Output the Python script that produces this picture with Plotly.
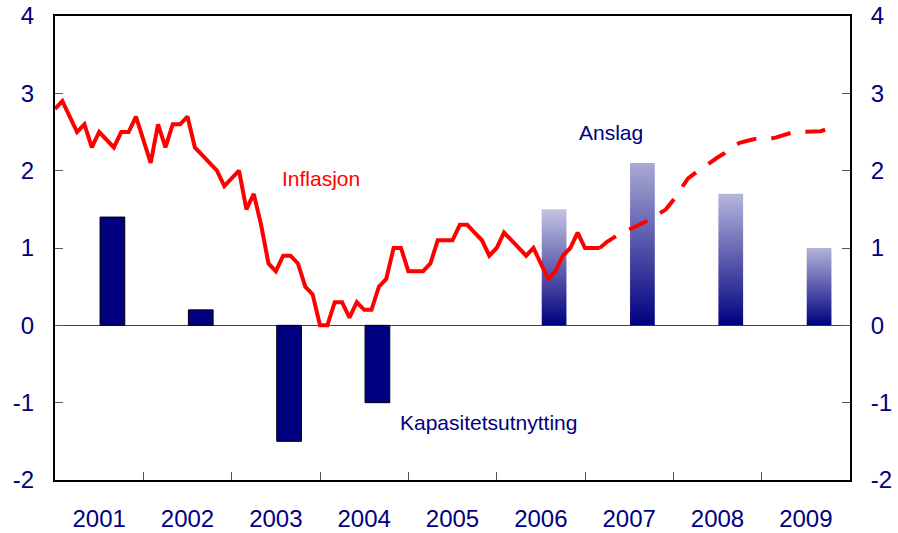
import plotly.graph_objects as go

# ---- data ----
years = [2001, 2002, 2003, 2004, 2005, 2006, 2007, 2008, 2009]
year_labels = ["2001", "2002", "2003", "2004", "2005", "2006", "2007", "2008", "2009"]
y_ticks = [-2, -1, 0, 1, 2, 3, 4]
y_tick_labels = ["-2", "-1", "0", "1", "2", "3", "4"]

# Kapasitetsutnytting (output gap), historical and forecast (Anslag)
gap_hist_years = [2001, 2002, 2003, 2004]
gap_hist_vals = [1.4, 0.2, -1.5, -1.0]
gap_fc_years = [2006, 2007, 2008, 2009]
gap_fc_vals = [1.5, 2.1, 1.7, 1.0]

# Inflasjon, monthly from Jan 2001 (solid = outcome, dashed = forecast)
infl_start = 2001.0
infl_hist = [
    2.8, 2.9, 2.7, 2.5, 2.6, 2.3, 2.5, 2.4, 2.3, 2.5, 2.5, 2.7,   # 2001
    2.4, 2.1, 2.6, 2.3, 2.6, 2.6, 2.7, 2.3, 2.2, 2.1, 2.0, 1.8,   # 2002
    1.9, 2.0, 1.5, 1.7, 1.3, 0.8, 0.7, 0.9, 0.9, 0.8, 0.5, 0.4,   # 2003
    0.0, 0.0, 0.3, 0.3, 0.1, 0.3, 0.2, 0.2, 0.5, 0.6, 1.0, 1.0,   # 2004
    0.7, 0.7, 0.7, 0.8, 1.1, 1.1, 1.1, 1.3, 1.3, 1.2, 1.1, 0.9,   # 2005
    1.0, 1.2, 1.1, 1.0, 0.9, 1.0, 0.8, 0.6, 0.7, 0.9, 1.0, 1.2,   # 2006
    1.0, 1.0, 1.0,                                                # 2007 Jan-Mar
]
infl_fc_start_index = 74  # Mar 2007
infl_fc = [
    1.0, 1.08, 1.14, 1.20, 1.24, 1.28, 1.33, 1.38, 1.44, 1.50,
    1.62, 1.77, 1.90, 1.97, 2.04, 2.11, 2.17, 2.23, 2.31, 2.36, 2.39, 2.41,
    2.41, 2.41, 2.43, 2.46, 2.49, 2.50, 2.50, 2.50, 2.51, 2.54,
]

# ---- styling ----
NAVY = "#000080"
RED = "#ff0000"
FONT = "Liberation Sans, Arial, sans-serif"
bar_offset = 0.65
bar_width = 0.28
fc_top_colors = ["#c4c4e2", "#a9a9d4", "#b6b6dc", "#b4b4da"]

fig = go.Figure()

# historical bars
fig.add_trace(go.Bar(
    x=[y + bar_offset for y in gap_hist_years], y=gap_hist_vals,
    width=bar_width, marker=dict(color=NAVY, line=dict(color="#000000", width=1)),
    showlegend=False, hoverinfo="skip",
))

# forecast bars with vertical gradient
for yr, v, top in zip(gap_fc_years, gap_fc_vals, fc_top_colors):
    c = yr + bar_offset
    x0, x1 = c - bar_width / 2, c + bar_width / 2
    fig.add_trace(go.Scatter(
        x=[x0, x1, x1, x0, x0], y=[0, 0, v, v, 0],
        mode="lines", line=dict(width=0), fill="toself",
        fillgradient=dict(type="vertical", colorscale=[[0, NAVY], [1, top]],
                          start=0, stop=v),
        showlegend=False, hoverinfo="skip",
    ))

# inflation lines
x_hist = [infl_start + i / 12 for i in range(len(infl_hist))]
x_fc = [infl_start + (infl_fc_start_index + i) / 12 for i in range(len(infl_fc))]
fig.add_trace(go.Scatter(x=x_hist, y=infl_hist, mode="lines",
                         line=dict(color=RED, width=4), showlegend=False))
fig.add_trace(go.Scatter(x=x_fc, y=infl_fc, mode="lines",
                         line=dict(color=RED, width=4, dash="20px,15px"), showlegend=False))

tickfont = dict(family=FONT, size=24, color=NAVY)

fig.update_layout(
    width=898, height=533,
    margin=dict(l=55, r=48, t=16, b=53),
    paper_bgcolor="white", plot_bgcolor="white",
    showlegend=False,
    xaxis=dict(
        range=[2001, 2010], tickmode="array",
        tickvals=[y + 0.5 for y in years], ticktext=year_labels,
        ticks="", tickfont=tickfont, ticklabelstandoff=16, automargin=False,
        minor=dict(tickmode="array", tickvals=list(range(2002, 2010)),
                   ticks="inside", ticklen=8, tickwidth=1, tickcolor="#555555",
                   showgrid=False),
        showgrid=False, zeroline=False,
        showline=True, linecolor="#000000", linewidth=2, mirror=True,
    ),
    yaxis=dict(
        range=[-2, 4], tickmode="array", tickvals=y_ticks, ticktext=y_tick_labels,
        ticks="inside", ticklen=8, tickwidth=1, tickcolor="#555555",
        tickfont=tickfont, ticklabelstandoff=14, automargin=False,
        showgrid=False, zeroline=True, zerolinecolor="#404040", zerolinewidth=1,
        showline=True, linecolor="#000000", linewidth=2,
    ),
    yaxis2=dict(
        overlaying="y", side="right",
        range=[-2, 4], tickmode="array", tickvals=y_ticks, ticktext=y_tick_labels,
        ticks="inside", ticklen=8, tickwidth=1, tickcolor="#555555",
        tickfont=tickfont, ticklabelstandoff=14, automargin=False,
        showgrid=False, zeroline=False,
        showline=True, linecolor="#000000", linewidth=2,
    ),
    annotations=[
        dict(x=2004.01, y=1.9, text="Inflasjon", showarrow=False,
             font=dict(family=FONT, size=21, color=RED)),
        dict(x=2007.29, y=2.49, text="Anslag", showarrow=False,
             font=dict(family=FONT, size=21, color=NAVY)),
        dict(x=2005.91, y=-1.25, text="Kapasitetsutnytting", showarrow=False,
             font=dict(family=FONT, size=21, color=NAVY)),
    ],
)

# invisible trace so the right axis is drawn
fig.add_trace(go.Scatter(x=[2001], y=[0], yaxis="y2", mode="markers",
                         marker=dict(opacity=0), showlegend=False, hoverinfo="skip"))

# remove the browser's default 8px body margin so the figure fills the window
fig.write_html("out.html",
               config={"displayModeBar": False},
               post_script="document.body.style.margin='0';document.body.style.overflow='hidden';")
